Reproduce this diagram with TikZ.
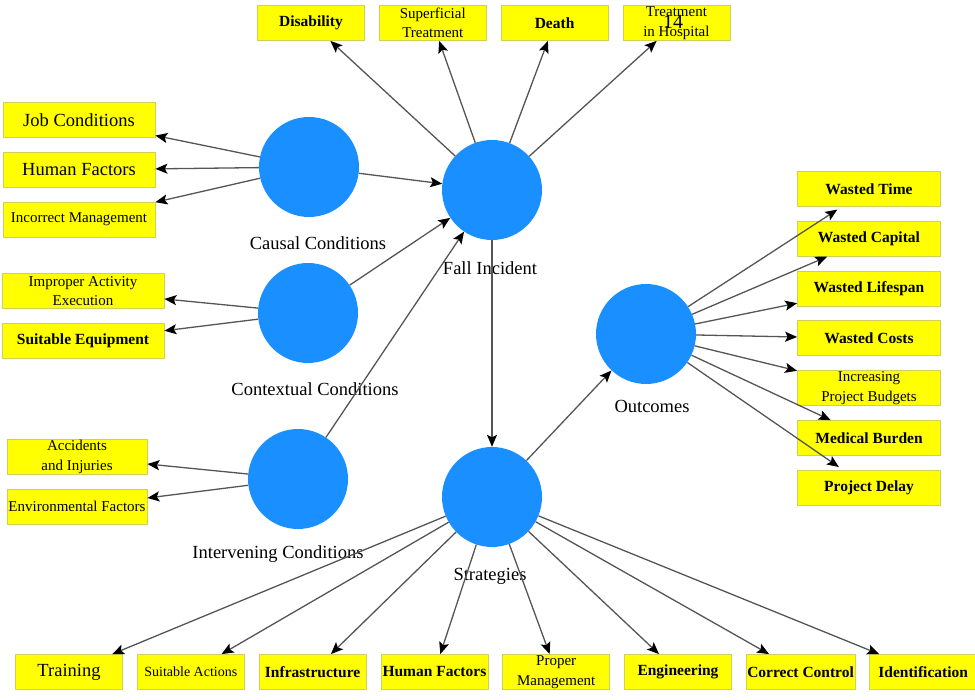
\documentclass[tikz,border=0pt]{standalone}
\usepackage{fontspec}
\setmainfont{Liberation Serif}
\usepackage{xcolor}
\usepackage{tikz}
\usetikzlibrary{arrows.meta, positioning}
\definecolor{hubblue}{HTML}{1A8FFF}
\definecolor{boxyellow}{HTML}{FFFF00}
\definecolor{boxedge}{HTML}{CFCF5A}
\definecolor{linkgray}{HTML}{555555}

\begin{document}
\begin{tikzpicture}[
  x=1pt, y=-1pt,
  node distance=14pt and 14pt,
  every node/.style={align=center},
  flow/.style={-{Stealth[length=12pt, width=10pt, inset=2.5pt, color=black]}, line width=1.3pt, draw=linkgray},
  hub/.style={circle, fill=hubblue, minimum size=100pt, inner sep=0pt},
  caption/.style={font=\fontsize{18.5}{22}\selectfont},
  box/.style={
    draw=boxedge,
    fill=boxyellow,
    line width=0.8pt,
    minimum height=35pt,
    minimum width=107pt,
    inner sep=1pt,
    font=\fontsize{15}{19.5}\selectfont
  },
  bigtext/.style={font=\fontsize{18.5}{22}\selectfont},
  boldtext/.style={font=\fontsize{15.5}{19}\selectfont\bfseries},
  leftbox/.style={box, minimum width=152pt},
  midbox/.style={box, minimum width=162pt},
  lowbox/.style={box, minimum width=140pt},
  sidebox/.style={box, minimum width=143pt}
]
\useasboundingbox (0,0) rectangle (975,700);

% hubs
\node[hub] (causal) at (309,167) {};
\node[hub] (fall) at (492,190) {};
\node[hub] (context) at (308,313) {};
\node[hub] (interv) at (298,479) {};
\node[hub] (outcome) at (646,334) {};
\node[hub] (strat) at (492,497) {};

\node[caption] (causallbl) at (318,243) {Causal Conditions};
\node[caption] (falllbl) at (490,268) {Fall Incident};
\node[caption] (contextlbl) at (315,389) {Contextual Conditions};
\node[caption] (intervlbl) at (278,554) {Intervening Conditions};
\node[caption] (outcomelbl) at (652,406) {Outcomes};
\node[caption] (stratlbl) at (490,576) {Strategies};

% causal conditions
\node[leftbox, bigtext] (job) at (79,120) {Job Conditions};
\node[leftbox, bigtext, below=of job] (human) {Human Factors};
\node[leftbox, below=of human] (mgmt) {Incorrect Management};

% contextual conditions
\node[midbox] (improper) at (83,291) {Improper Activity\\Execution};
\node[midbox, boldtext, below=of improper] (equip) {Suitable Equipment};

% intervening conditions
\node[lowbox] (accid) at (77,457) {Accidents\\and Injuries};
\node[lowbox, below=of accid] (envir) {Environmental Factors};

% consequences of the fall
\node[box, boldtext] (disab) at (311,23) {Disability};
\node[box, right=of disab] (superf) {Superficial\\Treatment};
\node[box, boldtext, right=of superf] (death) {Death};
\node[box, right=of death] (hosp) {Treatment\\in Hospital};
\node[font=\fontsize{20}{22}\selectfont] (pageno) at (673,22) {14};

% outcomes
\node[sidebox, boldtext] (wtime) at (869,189) {Wasted Time};
\node[sidebox, boldtext, below=of wtime] (wcap) {Wasted Capital};
\node[sidebox, boldtext, below=of wcap] (wlife) {Wasted Lifespan};
\node[sidebox, boldtext, below=of wlife] (wcost) {Wasted Costs};
\node[sidebox, below=of wcost] (budget) {Increasing\\Project Budgets};
\node[sidebox, boldtext, below=of budget] (medic) {Medical Burden};
\node[sidebox, boldtext, below=of medic] (delay) {Project Delay};

% strategies
\node[box, bigtext] (train) at (69,672) {Training};
\node[box, font=\fontsize{14}{18}\selectfont, right=of train] (action) {Suitable Actions};
\node[box, boldtext, right=of action] (infra) {Infrastructure};
\node[box, boldtext, right=of infra] (shuman) {Human Factors};
\node[box, right=of shuman] (proper) {Proper\\Management};
\node[box, boldtext, right=of proper] (engin) {Engineering};
\node[box, boldtext, right=of engin] (control) {Correct Control};
\node[box, boldtext, right=of control] (ident) {Identification};

\draw[flow] (causal) -- (job);
\draw[flow] (causal) -- (human);
\draw[flow] (causal) -- (mgmt);
\draw[flow] (context) -- (improper);
\draw[flow] (context) -- (equip);
\draw[flow] (interv) -- (accid);
\draw[flow] (interv) -- (envir);

\draw[flow] (causal) -- (fall);
\draw[flow] (context) -- (fall);
\draw[flow] (interv) -- (fall);

\draw[flow] (fall) -- (disab);
\draw[flow] (fall) -- (superf);
\draw[flow] (fall) -- (death);
\draw[flow] (fall) -- (hosp);

\draw[flow] (fall) -- (strat);
\draw[flow] (strat) -- (outcome);

\draw[flow, shorten >=5pt] (outcome) -- (wtime);
\draw[flow] (outcome) -- (wcap);
\draw[flow] (outcome) -- (wlife);
\draw[flow] (outcome) -- (wcost);
\draw[flow] (outcome) -- (budget);
\draw[flow] (outcome) -- (medic);
\draw[flow, shorten >=5pt] (outcome) -- (delay);

\draw[flow] (strat) -- (train);
\draw[flow] (strat) -- (action);
\draw[flow] (strat) -- (infra);
\draw[flow] (strat) -- (shuman);
\draw[flow] (strat) -- (proper);
\draw[flow] (strat) -- (engin);
\draw[flow] (strat) -- (control);
\draw[flow] (strat) -- (ident);

\end{tikzpicture}
\end{document}
